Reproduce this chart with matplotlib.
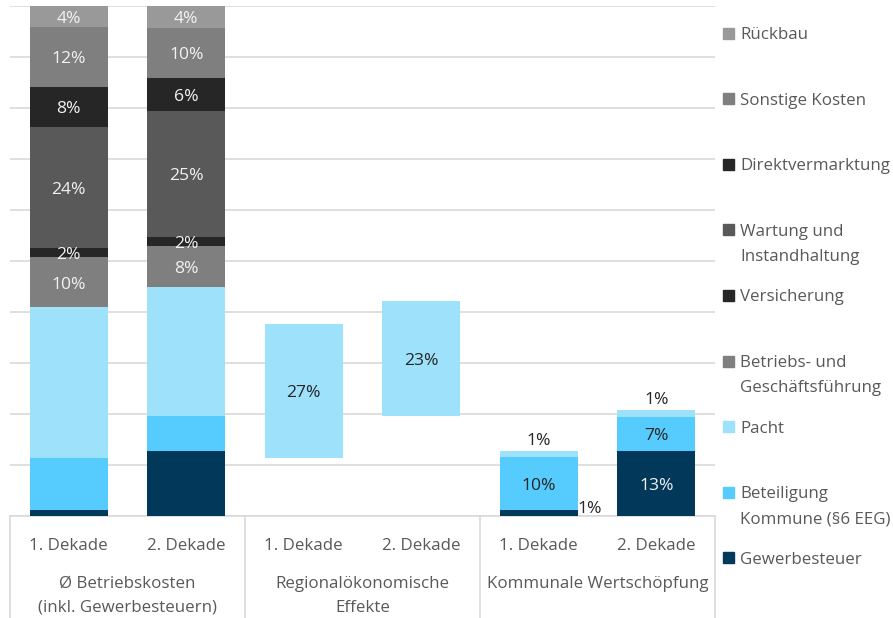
import matplotlib
matplotlib.use("Agg")
import matplotlib.pyplot as plt
from matplotlib.transforms import blended_transform_factory
from matplotlib.lines import Line2D
from matplotlib.patches import Rectangle

plt.rcParams['font.family'] = ['Open Sans', 'DejaVu Sans']

# ---------------- data ----------------
bar_labels = ["1. Dekade", "2. Dekade", "1. Dekade", "2. Dekade", "1. Dekade", "2. Dekade"]
group_labels = ["Ø Betriebskosten\n(inkl. Gewerbesteuern)",
                "Regionalökonomische\nEffekte",
                "Kommunale Wertschöpfung"]

series_names = ["Gewerbesteuer", "Beteiligung\nKommune (§6 EEG)", "Pacht",
                "Betriebs- und\nGeschäftsführung", "Versicherung",
                "Wartung und\nInstandhaltung", "Direktvermarktung",
                "Sonstige Kosten", "Rückbau"]

invisible_base = [0, 0, 11.4, 19.6, 0, 0]
gewerbesteuer = [1.2, 12.7, 0, 0, 1.2, 12.7]
beteiligung = [10.2, 6.9, 0, 0, 10.3, 6.8]
pacht = [29.5, 25.4, 26.3, 22.6, 1.2, 1.2]
betriebsfuehrung = [9.8, 7.9, 0, 0, 0, 0]
versicherung = [1.9, 1.8, 0, 0, 0, 0]
wartung = [23.7, 24.7, 0, 0, 0, 0]
direktvermarktung = [7.9, 6.5, 0, 0, 0, 0]
sonstige = [11.6, 9.8, 0, 0, 0, 0]
rueckbau = [4.2, 4.3, 0, 0, 0, 0]

lab_gewerbesteuer = ["", "", "", "", "1%", "13%"]
lab_beteiligung = ["", "", "", "", "10%", "7%"]
lab_pacht = ["", "", "27%", "23%", "1%", "1%"]
lab_betriebsfuehrung = ["10%", "8%", "", "", "", ""]
lab_versicherung = ["2%", "2%", "", "", "", ""]
lab_wartung = ["24%", "25%", "", "", "", ""]
lab_direktvermarktung = ["8%", "6%", "", "", "", ""]
lab_sonstige = ["12%", "10%", "", "", "", ""]
lab_rueckbau = ["4%", "4%", "", "", "", ""]

series_values = [gewerbesteuer, beteiligung, pacht, betriebsfuehrung, versicherung,
                 wartung, direktvermarktung, sonstige, rueckbau]
series_labels = [lab_gewerbesteuer, lab_beteiligung, lab_pacht, lab_betriebsfuehrung,
                 lab_versicherung, lab_wartung, lab_direktvermarktung, lab_sonstige,
                 lab_rueckbau]
series_colors = ["#02385A", "#55CBFE", "#9EE1FB", "#7F7F7F", "#262626",
                 "#595959", "#262626", "#7F7F7F", "#999999"]
label_colors = ["#F2F2F2", "#262626", "#262626", "#F2F2F2", "#F2F2F2",
                "#F2F2F2", "#F2F2F2", "#F2F2F2", "#F2F2F2"]

# ---------------- figure ----------------
W, H = 893, 618
fig = plt.figure(figsize=(W / 100, H / 100), dpi=100)
ax_left, ax_right, ax_bottom_px, ax_top_px = 10, 715, 516, 6
ax = fig.add_axes([ax_left / W, (H - ax_bottom_px) / H,
                   (ax_right - ax_left) / W, (ax_bottom_px - ax_top_px) / H])

x = list(range(len(bar_labels)))
bw = 0.66
FS = 12.2
FS_LAB = 12.6
grid_col = "#D9D9D9"
text_col = "#595959"

ax.set_xlim(-0.5, 5.5)
ax.set_ylim(0, 100)
ax.set_yticks(range(0, 101, 10))
ax.set_xticks([])
ax.tick_params(axis='y', length=0, labelleft=False)
ax.yaxis.grid(True, color=grid_col, lw=1.2)
ax.set_axisbelow(True)
for s in ax.spines.values():
    s.set_visible(False)

bottom = list(invisible_base)
for i, (vals, labs, col, lcol) in enumerate(zip(series_values, series_labels,
                                                  series_colors, label_colors)):
    ax.bar(x, vals, bw, bottom=bottom, color=col, edgecolor='none', zorder=2)
    for j, lab in enumerate(labs):
        if not lab:
            continue
        if i == 2 and j >= 4:
            # thin top segment: label above the bar
            ax.annotate(lab, (x[j], bottom[j] + vals[j]), xytext=(0, 1.5),
                        textcoords='offset points', ha='center', va='bottom',
                        fontsize=FS_LAB, color="#262626", zorder=3)
        elif i == 0 and j == 4:
            # thin bottom segment: label right of the bar
            ax.annotate(lab, (x[j] + bw / 2, bottom[j] + vals[j] / 2), xytext=(0, 3),
                        textcoords='offset points', ha='left', va='center',
                        fontsize=FS_LAB, color="#262626", annotation_clip=False,
                        zorder=3)
        else:
            ax.annotate(lab, (x[j], bottom[j] + vals[j] / 2), xytext=(0, -1.6),
                        textcoords='offset points', ha='center', va='center',
                        fontsize=FS_LAB, color=lcol, zorder=3)
    bottom = [b + v for b, v in zip(bottom, vals)]

# category axis (multi-level)
tr = blended_transform_factory(ax.transData, fig.transFigure)
y_base = (H - ax_bottom_px) / H
ax.add_line(Line2D([-0.5, 5.5], [0, 0], color=grid_col, lw=1.2, clip_on=False, zorder=1))
for xb in [-0.5, 1.5, 3.5, 5.5]:
    fig.add_artist(Line2D([xb, xb], [0, y_base], transform=tr, color=grid_col, lw=1.2))
for xi, lab in zip(x, bar_labels):
    fig.text(xi, (H - 546) / H, lab, transform=tr, ha='center', va='center',
             fontsize=FS, color=text_col)
for g, lab in enumerate(group_labels):
    xc = 2 * g + 0.5
    for k, line in enumerate(lab.split("\n")):
        fig.text(xc, (H - 584 - 24 * k) / H, line, transform=tr, ha='center',
                 va='center', fontsize=FS, color=text_col)

# legend (reverse order, right side)
for n, idx in enumerate(reversed(range(len(series_names)))):
    y_px = 33 + n * 65.6
    fig.add_artist(Rectangle(((723) / W, (H - y_px - 5.5) / H), 11 / W, 11 / H,
                             transform=fig.transFigure, color=series_colors[idx]))
    for k, line in enumerate(series_names[idx].split("\n")):
        fig.text(740 / W, (H - y_px - 2 - 25 * k) / H, line, ha='left', va='center',
                 fontsize=FS, color=text_col)

fig.savefig("out.png", dpi=100)
